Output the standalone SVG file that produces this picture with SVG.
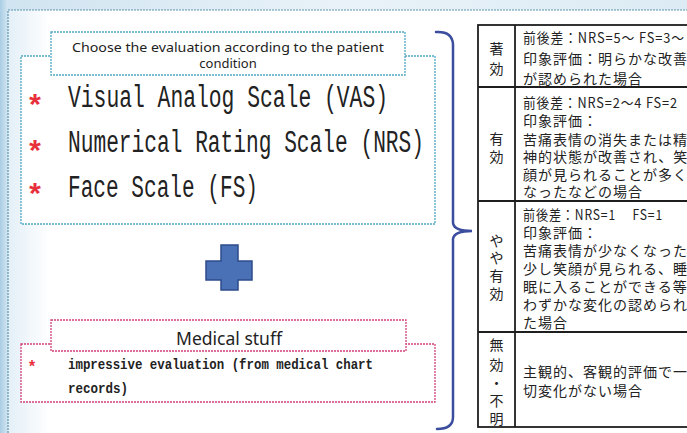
<svg xmlns="http://www.w3.org/2000/svg" width="687" height="433" viewBox="0 0 687 433">
  <defs>
    <linearGradient id="bgL" x1="0" y1="0" x2="1" y2="0">
      <stop offset="0" stop-color="#a9cde4"/>
      <stop offset="1" stop-color="#d5e7f2"/>
    </linearGradient>
    <linearGradient id="bgT" x1="0" y1="0" x2="1" y2="0">
      <stop offset="0" stop-color="#cfe3f0"/>
      <stop offset="0.5" stop-color="#e9f2f8"/>
      <stop offset="1" stop-color="#dcebf4"/>
    </linearGradient>
    <linearGradient id="inL" x1="0" y1="0" x2="1" y2="0">
      <stop offset="0" stop-color="#e3eff7"/>
      <stop offset="0.06" stop-color="#ffffff"/>
      <stop offset="1" stop-color="#ffffff"/>
    </linearGradient>
  </defs>
  <style>
    .teal { fill: #ffffff; stroke: #4fa8c4; stroke-width: 1.3; stroke-dasharray: 2 1; }
    .pink { fill: #ffffff; stroke: #d2407a; stroke-width: 1.3; stroke-dasharray: 2 1; }
    .big { font-family: "Liberation Mono", "DejaVu Sans Mono", monospace; font-size: 31px; fill: #222222; }
    .star { font-family: "Liberation Mono", "DejaVu Sans Mono", monospace; fill: #e8303c; text-anchor: middle; font-weight: bold; }
    .hdr { font-family: "Noto Sans", "Open Sans", sans-serif; fill: #222222; text-anchor: middle; }
    .med { font-family: "Liberation Mono", "DejaVu Sans Mono", monospace; font-size: 15px; font-weight: bold; fill: #222222; }
    .jp { font-family: "Noto Sans CJK JP", "Noto Sans CJK SC", sans-serif; font-size: 14px; letter-spacing: 1px; fill: #222222; }
    .lab { font-family: "Noto Sans CJK JP", "Noto Sans CJK SC", sans-serif; font-size: 14px; fill: #222222; text-anchor: middle; }
    .tb { fill: none; stroke: #1e1e1e; stroke-width: 1.8; }
  </style>

  <!-- background -->
  <rect x="0" y="0" width="687" height="433" fill="url(#bgT)"/>
  <rect x="0" y="0" width="8" height="433" fill="url(#bgL)"/>
  <rect id="outer" x="8" y="10" width="700" height="440" fill="url(#inL)" stroke="#5d94ad" stroke-width="1.2" stroke-dasharray="2 1"/>

  <!-- scales box -->
  <g id="scales">
    <rect class="teal" x="21" y="56" width="414" height="168"/>
    <rect class="teal" x="51" y="32" width="354" height="43"/>
    <text class="hdr" x="228" y="52" font-size="13" textLength="312" lengthAdjust="spacingAndGlyphs">Choose the evaluation according to the patient</text>
    <text class="hdr" x="228" y="68" font-size="13">condition</text>
    <text class="star" x="35" y="116" font-size="30">*</text>
    <text class="big" x="68" y="107" textLength="320" lengthAdjust="spacingAndGlyphs">Visual Analog Scale (VAS)</text>
    <text class="star" x="35" y="162" font-size="30">*</text>
    <text class="big" x="68" y="152" textLength="356" lengthAdjust="spacingAndGlyphs">Numerical Rating Scale (NRS)</text>
    <text class="star" x="35" y="205" font-size="30">*</text>
    <text class="big" x="68" y="197" textLength="190" lengthAdjust="spacingAndGlyphs">Face Scale (FS)</text>
  </g>

  <!-- plus -->
  <g id="plus">
    <path d="M221,245 H238 V261 H252 V280 H238 V290 H221 V280 H206 V261 H221 Z" fill="#4a70b6" stroke="#2c4b8a" stroke-width="1.5"/>
  </g>

  <!-- medical stuff box -->
  <g id="medical">
    <rect class="pink" x="21" y="344" width="414" height="58"/>
    <rect class="pink" x="51" y="320" width="355" height="31"/>
    <text class="hdr" x="229" y="345" font-size="18" textLength="106" lengthAdjust="spacingAndGlyphs">Medical stuff</text>
    <text class="star" x="32" y="372" font-size="16">*</text>
    <text class="med" x="68" y="369" textLength="305" lengthAdjust="spacingAndGlyphs">impressive evaluation (from medical chart</text>
    <text class="med" x="68" y="393" textLength="60" lengthAdjust="spacingAndGlyphs">records)</text>
  </g>

  <!-- connectors -->
  <g id="connectors">
    <path d="M436,32 Q452,31 453,44 L453,223 Q454,231 472,231 Q454,231 453,239 L453,417 Q453,429 437,429" fill="none" stroke="#3b4d9e" stroke-width="2.5" stroke-linecap="round"/>
  </g>

  <!-- table -->
  <g id="table">
    <rect class="tb" x="478" y="25" width="230" height="402" fill="#ffffff"/>
    <line class="tb" x1="515" y1="25" x2="515" y2="427"/>
    <line class="tb" x1="478" y1="87" x2="708" y2="87"/>
    <line class="tb" x1="478" y1="201" x2="708" y2="201"/>
    <line class="tb" x1="478" y1="332" x2="708" y2="332"/>
  </g>

  <g id="row1">
    <text class="lab" x="496.5" y="54">著</text>
    <text class="lab" x="496.5" y="74">効</text>
    <text class="jp" x="523" y="43" xml:space="preserve" textLength="162" lengthAdjust="spacingAndGlyphs">前後差：NRS=5～ FS=3～</text>
    <text class="jp" x="523" y="64">印象評価：明らかな改善</text>
    <text class="jp" x="523" y="84">が認められた場合</text>
  </g>

  <g id="row2">
    <text class="lab" x="496.5" y="144">有</text>
    <text class="lab" x="496.5" y="162">効</text>
    <text class="jp" x="523" y="108" textLength="155" lengthAdjust="spacingAndGlyphs">前後差：NRS=2～4 FS=2</text>
    <text class="jp" x="523" y="126">印象評価：</text>
    <text class="jp" x="523" y="145">苦痛表情の消失または精</text>
    <text class="jp" x="523" y="162">神的状態が改善され、笑</text>
    <text class="jp" x="523" y="180">顔が見られることが多く</text>
    <text class="jp" x="523" y="197">なったなどの場合</text>
  </g>

  <g id="row3">
    <text class="lab" x="496.5" y="246">や</text>
    <text class="lab" x="496.5" y="263">や</text>
    <text class="lab" x="496.5" y="281">有</text>
    <text class="lab" x="496.5" y="299">効</text>
    <text class="jp" x="523" y="220" xml:space="preserve" textLength="140" lengthAdjust="spacingAndGlyphs">前後差：NRS=1　 FS=1</text>
    <text class="jp" x="523" y="238">印象評価：</text>
    <text class="jp" x="523" y="256">苦痛表情が少なくなった</text>
    <text class="jp" x="523" y="274">少し笑顔が見られる、睡</text>
    <text class="jp" x="523" y="292">眠に入ることができる等</text>
    <text class="jp" x="523" y="310">わずかな変化の認められ</text>
    <text class="jp" x="523" y="328">た場合</text>
  </g>

  <g id="row4">
    <text class="lab" x="496.5" y="350">無</text>
    <text class="lab" x="496.5" y="370">効</text>
    <text class="lab" x="496.5" y="388">・</text>
    <text class="lab" x="496.5" y="406">不</text>
    <text class="lab" x="496.5" y="424">明</text>
    <text class="jp" x="523" y="377">主観的、客観的評価で一</text>
    <text class="jp" x="523" y="396">切変化がない場合</text>
  </g>
</svg>
